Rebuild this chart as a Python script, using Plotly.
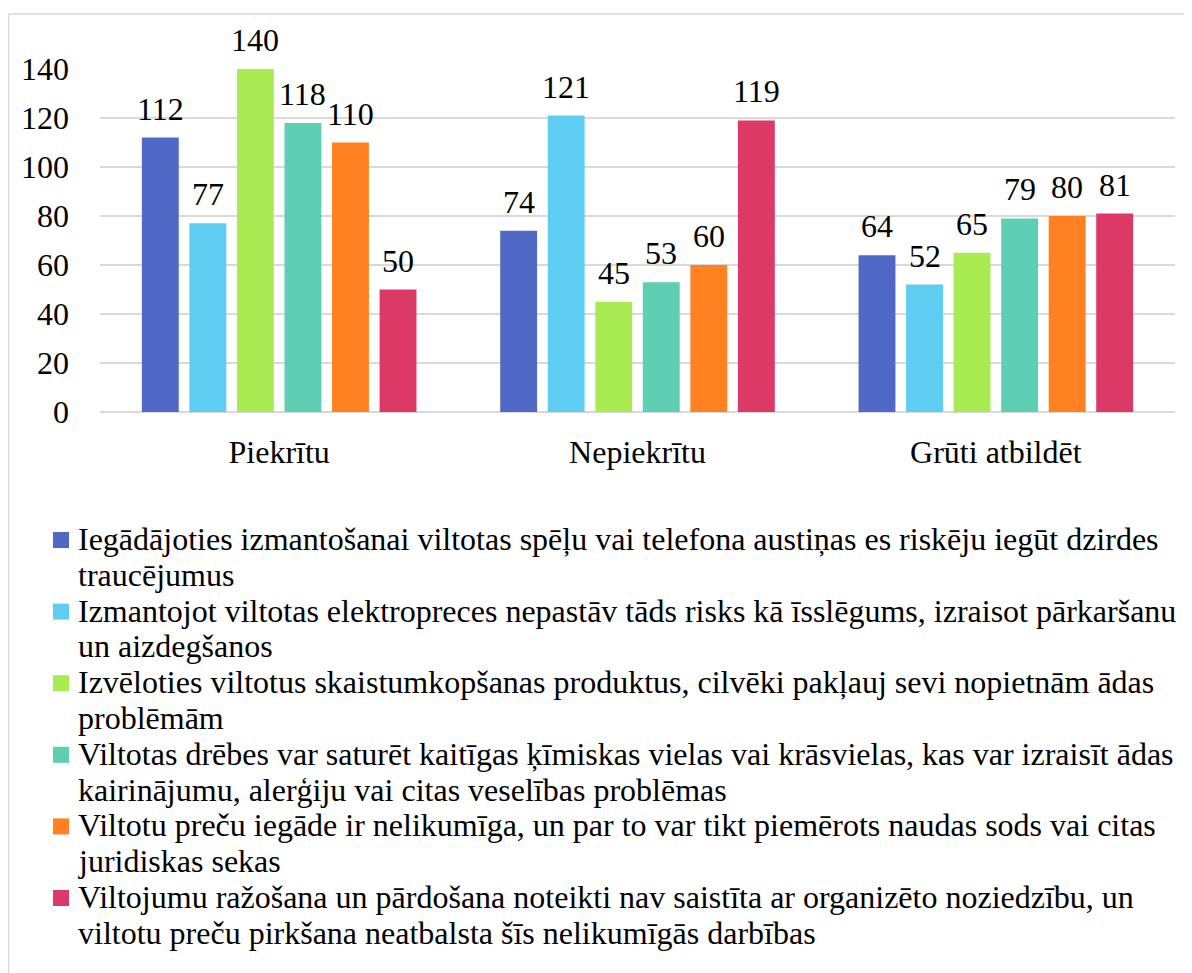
import plotly.graph_objects as go

categories = ["Piekrītu", "Nepiekrītu", "Grūti atbildēt"]
series_names = [
    "Iegādājoties izmantošanai viltotas spēļu vai telefona austiņas es riskēju iegūt dzirdes<br>traucējumus",
    "Izmantojot viltotas elektropreces nepastāv tāds risks kā īsslēgums, izraisot pārkaršanu<br>un aizdegšanos",
    "Izvēloties viltotus skaistumkopšanas produktus, cilvēki pakļauj sevi nopietnām ādas<br>problēmām",
    "Viltotas drēbes var saturēt kaitīgas ķīmiskas vielas vai krāsvielas, kas var izraisīt ādas<br>kairinājumu, alerģiju vai citas veselības problēmas",
    "Viltotu preču iegāde ir nelikumīga, un par to var tikt piemērots naudas sods vai citas<br>juridiskas sekas",
    "Viltojumu ražošana un pārdošana noteikti nav saistīta ar organizēto noziedzību, un<br>viltotu preču pirkšana neatbalsta šīs nelikumīgās darbības",
]
values = [
    [112, 74, 64],
    [77, 121, 52],
    [140, 45, 65],
    [118, 53, 79],
    [110, 60, 80],
    [50, 119, 81],
]
colors = ["#5068C6", "#5FCDF2", "#A9EB53", "#5ECFB2", "#FF8122", "#DC3966"]
y_ticks = [0, 20, 40, 60, 80, 100, 120, 140]

FONT = "Liberation Serif"
FS = 32
BARGAP = 0.204

fig = go.Figure()
for name, vals, col in zip(series_names, values, colors):
    fig.add_trace(go.Bar(
        x=categories, y=vals, name=name.replace("<br>", " "),
        marker=dict(color=col, line=dict(width=0)),
        showlegend=False,
    ))

# page has an 8px body margin, so work in page pixels and shift
OFF = 8
W, H = 1192 - OFF, 973 - OFF
L, R, T, B = 100 - OFF, 17, 69 - OFF, 973 - 412
pw, ph = W - L - R, H - T - B


def px_x(p):
    return (p - OFF - L) / pw


def px_y(p):
    return (H - B - (p - OFF)) / ph


# value labels above each bar
n = len(values)
slot = (1 - BARGAP) / n
annotations = []
for i, vals in enumerate(values):
    for c, v in enumerate(vals):
        annotations.append(dict(
            x=c + (i - (n - 1) / 2) * slot, y=v, xref="x", yref="y",
            text=str(v), showarrow=False, yanchor="bottom", yshift=9,
            font=dict(family=FONT, size=FS, color="black"),
        ))

# legend below the plot: square + wrapped text, tighter line spacing than plotly's legend
shapes = []
line_h = 35.8
k = 0
for i, (name, col) in enumerate(zip(series_names, colors)):
    cy = 540 + i * 2 * line_h
    shapes.append(dict(type="rect", xref="paper", yref="paper",
                       x0=px_x(53), x1=px_x(69), y0=px_y(cy + 8), y1=px_y(cy - 8),
                       fillcolor=col, line=dict(width=0)))
    for part in name.split("<br>"):
        annotations.append(dict(
            x=px_x(76), y=px_y(539 + k * line_h), xref="paper", yref="paper",
            text=part, showarrow=False, xanchor="left", yanchor="middle",
            font=dict(family=FONT, size=FS, color="black"),
        ))
        k += 1

# chart area frame (top and left edges visible)
shapes.append(dict(type="line", xref="paper", yref="paper",
                   x0=px_x(8.5), x1=px_x(1192), y0=px_y(14), y1=px_y(14),
                   line=dict(color="#D9D9D9", width=1.5)))
shapes.append(dict(type="line", xref="paper", yref="paper",
                   x0=px_x(8.5), x1=px_x(8.5), y0=px_y(14), y1=px_y(973),
                   line=dict(color="#D9D9D9", width=1.5)))

fig.update_layout(
    width=W, height=H,
    margin=dict(l=L, r=R, t=T, b=B, autoexpand=False),
    paper_bgcolor="white", plot_bgcolor="white",
    font=dict(family=FONT, size=FS, color="black"),
    barmode="group", bargap=BARGAP, bargroupgap=0.224,
    xaxis=dict(showgrid=False, showline=False, ticks="", ticklabelstandoff=18,
               tickfont=dict(family=FONT, size=FS, color="black"), automargin=False),
    yaxis=dict(range=[0, 140], tickvals=y_ticks, showgrid=True,
               gridcolor="#D9D9D9", gridwidth=1.5, zeroline=True,
               zerolinecolor="#D9D9D9", zerolinewidth=1.5,
               ticks="", ticklabelstandoff=30, tickfont=dict(family=FONT, size=FS, color="black"),
               automargin=False),
    showlegend=False,
    annotations=annotations,
    shapes=shapes,
)

fig.write_html("out.html")
